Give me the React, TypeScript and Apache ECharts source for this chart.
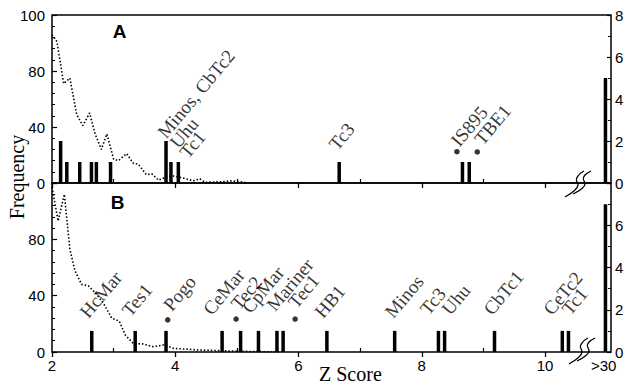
import React, { useEffect, useRef } from "react";
import * as echarts from "echarts";

// ---- Data ----
// Panel A: dotted frequency curve (left axis)
const zCurveA = [2.0, 2.08, 2.19, 2.29, 2.4, 2.5, 2.61, 2.7, 2.8, 2.89, 3.0, 3.08, 3.21, 3.32, 3.4, 3.53, 3.62, 3.73, 3.86, 3.97, 4.13, 4.29, 4.4, 4.48, 4.78, 4.89, 5.05, 5.17];
const freqA = [106, 101, 71, 75, 49, 41, 50, 35, 24, 35, 17, 16, 21, 14, 13.5, 6, 6.5, 2, 4.5, 5, 3.5, 1.5, 3, 0.5, 1, 1.5, 1, 0];
// Panel B: dotted frequency curve
const zCurveB = [2.0, 2.1, 2.2, 2.29, 2.37, 2.48, 2.59, 2.7, 2.83, 2.97, 3.09, 3.19, 3.32, 3.48, 3.64, 3.81, 3.97, 4.4, 5.05, 5.7];
const freqB = [117, 93, 112, 73, 58, 48, 47, 42, 35, 24, 22, 12, 6, 5.7, 3.8, 5, 2.6, 1.4, 0.5, 0];

// Bars (right axis counts); 10.98 is the ">30" position
const zBarsA = [2.14, 2.24, 2.45, 2.64, 2.72, 2.95, 3.85, 3.93, 4.05, 6.66, 8.66, 8.77, 10.98];
const countA = [2, 1, 1, 1, 1, 1, 2, 1, 1, 1, 1, 1, 5];
const zBarsB = [2.645, 3.35, 3.85, 4.76, 5.06, 5.35, 5.65, 5.75, 6.46, 7.56, 8.27, 8.37, 9.18, 10.28, 10.38, 10.98];
const countB = [1, 1, 1, 1, 1, 1, 1, 1, 1, 1, 1, 1, 1, 1, 1, 7];

// Annotations: text, anchor z, anchor count level
const namesA = ["Minos, CbTc2", "Uhu", "Tc1", "Tc3", "IS895", "TBE1"];
const nameZA = [3.78, 3.98, 4.14, 6.56, 8.54, 8.92];
const nameCA = [2.25, 1.77, 1.3, 1.68, 1.85, 1.93];
const dotZA = [8.57, 8.9];
const dotCA = [1.49, 1.48];

const namesB = ["HcMar", "Tes1", "Pogo", "CeMar", "Tec2", "CpMar", "Mariner", "Tec1", "HB1", "Minos", "Tc3", "Uhu", "CbTc1", "CeTc2", "Tc1"];
const nameZB = [2.52, 3.2, 3.875, 4.52, 4.97, 5.15, 5.55, 5.9, 6.33, 7.47, 8.04, 8.39, 9.07, 10.04, 10.34];
const nameCB = [1.72, 1.8, 2.05, 1.87, 2.11, 1.95, 2.05, 2.19, 1.72, 1.72, 1.87, 1.87, 1.87, 1.87, 1.87];
const dotZB = [3.878, 4.987, 5.945];
const dotCB = [1.52, 1.56, 1.56];

// Tick labels
const xLabelValues = [2, 4, 6, 8, 10, 10.95];
const xLabelTexts = ["2", "4", "6", "8", "10", ">30"];
const leftTickValues = [0, 40, 80, 120];
const leftTextsA = ["0", "40", "80", "100"];
const leftTextsB = ["0", "40", "80", ""];
const rightTickValues = [0, 2, 4, 6, 8];
const rightTextsA = ["0", "2", "4", "6", "8"];
const rightTextsB = ["0", "2", "4", "6", ""];

const SANS = '"Liberation Sans", Arial, sans-serif';
const SERIF = '"Liberation Serif", "Times New Roman", serif';
const BLACK = "#000";

const breakPath =
  "M0 27 C7 23 13 19 13 15 C13 11 9 11 13 6 C15 3 17 2 19 1 M8 24 C14 21 20 17 20 14 C20 10 16 10 20 5 C22 3 24 2 26 1";

let registered = false;
function registerBreak() {
  if (registered) return;
  echarts.graphic.registerShape("axisbreak", echarts.graphic.extendPath(breakPath, {}) as any);
  registered = true;
}

const zip = (a: number[], b: number[]) => a.map((v, i) => [v, b[i]]);

export default function App() {
  const ref = useRef<HTMLDivElement>(null);
  useEffect(() => {
    if (!ref.current) return;
    document.body.style.margin = "0";
    registerBreak();
    const chart = echarts.init(ref.current, undefined, { renderer: "svg" });

    const xBase = (grid: number, labels: boolean) => ({
      type: "value",
      gridIndex: grid,
      position: "bottom",
      min: 2,
      max: 11.07,
      interval: 1,
      axisLine: { show: false },
      splitLine: { show: false },
      axisTick: {
        show: true,
        customValues: [2, 4, 6, 8, 10],
        inside: false,
        length: 5,
        lineStyle: { color: BLACK, width: 1.3 },
      },
      axisLabel: labels
        ? {
            show: true,
            customValues: xLabelValues,
            formatter: (v: number) => {
              const i = xLabelValues.findIndex((x) => Math.abs(x - v) < 1e-6);
              return i >= 0 ? xLabelTexts[i] : "";
            },
            color: BLACK,
            fontFamily: SANS,
            fontSize: 15,
            margin: 6,
          }
        : { show: false },
    });
    const xInner = (grid: number) => ({
      type: "value",
      gridIndex: grid,
      position: "bottom",
      min: 2,
      max: 11.07,
      interval: 1,
      axisLine: { show: false },
      splitLine: { show: false },
      axisLabel: { show: false },
      axisTick: {
        show: true,
        customValues: [3, 5, 7, 9],
        inside: true,
        length: 4,
        lineStyle: { color: BLACK, width: 1.2 },
      },
    });
    const yLeft = (grid: number, texts: string[]) => ({
      type: "value",
      gridIndex: grid,
      position: "left",
      min: 0,
      max: 120,
      interval: 40,
      axisLine: { show: false },
      splitLine: { show: false },
      axisTick: { show: true, inside: true, length: 5, lineStyle: { color: BLACK, width: 1.2 } },
      minorTick: { show: true, splitNumber: 5, length: 3, lineStyle: { color: BLACK, width: 1 } },
      axisLabel: {
        color: BLACK,
        fontFamily: SANS,
        fontSize: 15,
        margin: 7,
        formatter: (v: number) => {
          const i = leftTickValues.indexOf(v);
          return i >= 0 ? texts[i] : "";
        },
      },
    });
    const yRight = (grid: number, texts: string[]) => ({
      type: "value",
      gridIndex: grid,
      position: "right",
      min: 0,
      max: 8,
      interval: 2,
      axisLine: { show: false },
      splitLine: { show: false },
      axisTick: { show: true, inside: true, length: 4, lineStyle: { color: BLACK, width: 1.2 } },
      minorTick: { show: true, splitNumber: 2, length: 3, lineStyle: { color: BLACK, width: 1 } },
      axisLabel: {
        color: BLACK,
        fontFamily: SANS,
        fontSize: 15,
        margin: 4,
        formatter: (v: number) => {
          const i = rightTickValues.indexOf(v);
          return i >= 0 ? texts[i] : "";
        },
      },
    });

    const curve = (xi: number, yi: number, zs: number[], fs: number[]) => ({
      type: "line",
      xAxisIndex: xi,
      yAxisIndex: yi,
      data: zip(zs, fs),
      showSymbol: false,
      symbol: "none",
      lineStyle: { color: BLACK, width: 1.6, type: [1.5, 2] },
      z: 3,
    });
    const bars = (xi: number, yi: number, zs: number[], cs: number[]) => ({
      type: "bar",
      xAxisIndex: xi,
      yAxisIndex: yi,
      data: zip(zs, cs),
      barWidth: 3.5,
      itemStyle: { color: BLACK },
      z: 4,
    });
    const dots = (xi: number, yi: number, zs: number[], cs: number[]) => ({
      type: "scatter",
      xAxisIndex: xi,
      yAxisIndex: yi,
      data: zip(zs, cs),
      symbol: "circle",
      symbolSize: 5.5,
      itemStyle: { color: BLACK },
      z: 5,
    });
    const names = (xi: number, yi: number, ns: string[], zs: number[], cs: number[]) => ({
      type: "scatter",
      xAxisIndex: xi,
      yAxisIndex: yi,
      data: ns.map((n, i) => ({ name: n, value: [zs[i], cs[i]] })),
      symbolSize: 1,
      itemStyle: { color: "rgba(0,0,0,0)" },
      z: 6,
      label: {
        show: true,
        formatter: "{b}",
        position: [0, 0],
        align: "left",
        verticalAlign: "middle",
        rotate: 50,
        color: BLACK,
        fontFamily: SERIF,
        fontSize: 19,
      },
      labelLayout: { hideOverlap: false },
    });

    chart.setOption({
      animation: false,
      backgroundColor: "#fff",
      grid: [
        { left: 52, right: 18, top: 15, height: 168, show: true, borderColor: BLACK, borderWidth: 1.5, backgroundColor: "transparent" },
        { left: 52, right: 18, top: 183, height: 169, show: true, borderColor: BLACK, borderWidth: 1.5, backgroundColor: "transparent" },
      ],
      xAxis: [xBase(0, false), xInner(0), xBase(1, true), xInner(1)],
      yAxis: [yLeft(0, leftTextsA), yRight(0, rightTextsA), yLeft(1, leftTextsB), yRight(1, rightTextsB)],
      series: [
        curve(0, 0, zCurveA, freqA),
        bars(0, 1, zBarsA, countA),
        dots(0, 1, dotZA, dotCA),
        names(0, 1, namesA, nameZA, nameCA),
        curve(2, 2, zCurveB, freqB),
        bars(2, 3, zBarsB, countB),
        dots(2, 3, dotZB, dotCB),
        names(2, 3, namesB, nameZB, nameCB),
      ],
      graphic: [
        { type: "text", x: 119.5, y: 31.5, style: { text: "A", fontFamily: SANS, fontWeight: "bold", fontSize: 19, fill: BLACK, align: "center", verticalAlign: "middle" } },
        { type: "text", x: 117.5, y: 202.5, style: { text: "B", fontFamily: SANS, fontWeight: "bold", fontSize: 19, fill: BLACK, align: "center", verticalAlign: "middle" } },
        { type: "text", x: 17, y: 177, rotation: Math.PI / 2, style: { text: "Frequency", fontFamily: SERIF, fontSize: 20, fill: BLACK, align: "center", verticalAlign: "middle" } },
        { type: "text", x: 319, y: 374, style: { text: "Z Score", fontFamily: SERIF, fontSize: 20, fill: BLACK, align: "left", verticalAlign: "middle" } },
        { type: "axisbreak", x: 565, y: 170, style: { fill: "none", stroke: BLACK, lineWidth: 1.3 } },
        { type: "axisbreak", x: 569, y: 337, style: { fill: "none", stroke: BLACK, lineWidth: 1.3 } },
      ],
    });
    return () => chart.dispose();
  }, []);
  return <div ref={ref} style={{ width: 629, height: 385 }} />;
}
